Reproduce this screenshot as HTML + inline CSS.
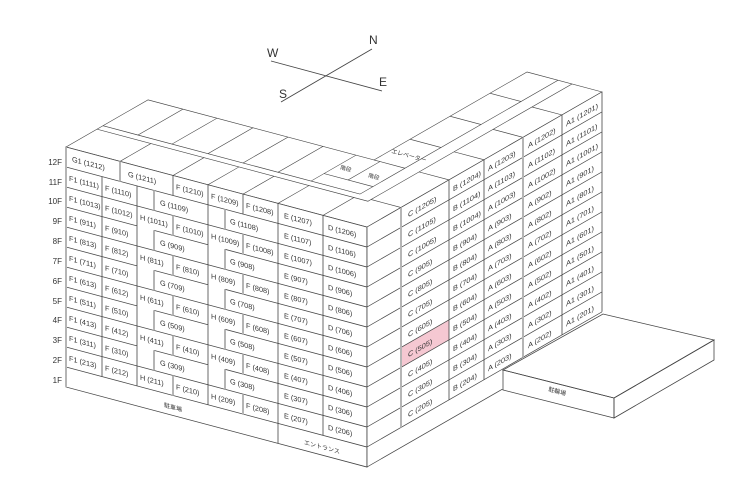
<!DOCTYPE html>
<html><head><meta charset="utf-8"><style>
html,body{margin:0;padding:0;background:#fff;}
svg{display:block;}
text{font-family:"Liberation Sans","Noto Sans CJK JP",sans-serif;fill:#333;}
.t{font-size:7.3px;}
.g{stroke:#b5b5b5;stroke-width:2;fill:none;}
.l{stroke:#444;stroke-width:0.8;fill:none;}
</style></head><body>
<svg width="730" height="500" viewBox="0 0 730 500" xmlns="http://www.w3.org/2000/svg">
<rect width="730" height="500" fill="#fff"/>
<!-- compass -->
<path d="M271 61 L382 91 M281 102 L372 49" stroke="#444" stroke-width="0.9" fill="none"/>
<text x="267" y="57" font-size="12">W</text>
<text x="369" y="44" font-size="12">N</text>
<text x="379" y="86" font-size="12">E</text>
<text x="279" y="98" font-size="12">S</text>

<!-- floor labels -->
<g font-size="8" text-anchor="end">
<text x="62" y="165">12F</text><text x="62" y="185">11F</text><text x="62" y="204">10F</text>
<text x="62" y="224">9F</text><text x="62" y="244">8F</text><text x="62" y="264">7F</text>
<text x="62" y="284">6F</text><text x="62" y="304">5F</text><text x="62" y="323">4F</text>
<text x="62" y="343">3F</text><text x="62" y="363">2F</text><text x="62" y="383">1F</text>
</g>

<!-- roof -->
<g transform="matrix(1 0.266 1 -0.575 66 147)">
<path class="l" fill="#fff" d="M0 0 H301 V235 H226 V82 H0 Z"/>
<path class="l" d="M0 31 H271 V235 M0 37 H257 V235
M54 0V31 M107 0V31 M142 0V31 M177 0V31 M212 0V31 M257 0V31
M271 34H301 M271 82H301 M271 117H301 M271 156H301 M271 195H301
M35 37V82 M69 37V82 M105 37V82 M140 37V82 M175 37V82 M208 37V82
M208 50H257 M232 50V82 M226 82H257
M226 118H257 M226 158H257 M226 198H257"/>
</g>
<text x="340" y="169" font-size="5.5" transform="rotate(15 340 169)">階段</text>
<text x="368" y="177" font-size="5.5" transform="rotate(15 368 177)">階段</text>
<text x="391" y="153" font-size="6" transform="rotate(15 391 153)">エレベーター</text>

<!-- left face -->
<g transform="matrix(1 0.266 0 1 66 147)">
<rect x="0" y="0" width="301" height="240" fill="#fff"/>
<path class="l" d="M0 0 H301 V240 H0 Z"/>
<path class="l" d="M0 20H301 M0 40H301 M0 80H301 M0 120H301 M0 160H301 M0 200H301 M0 220H301
M0 60H71 M88 60H142 M159 60H301
M0 100H71 M88 100H142 M159 100H301
M0 140H71 M88 140H142 M159 140H301
M0 180H71 M88 180H142 M159 180H301
M36 20V220 M71 20V220 M107 0V20 M142 0V220 M177 0V20 M212 0V240 M257 0V220"/>
<path class="g" d="M0 0V240 M54 0V20
M88 20V40 M88 60V80 M88 100V120 M88 140V160 M88 180V200
M107 40V60 M107 80V100 M107 120V140 M107 160V180 M107 200V220
M159 20V40 M159 60V80 M159 100V120 M159 140V160 M159 180V200
M177 40V60 M177 80V100 M177 120V140 M177 160V180 M177 200V220"/>
<g class="t">
<text x="6" y="13">G1 (1212)</text><text x="62" y="13">G (1211)</text><text x="110" y="13">F (1210)</text>
<text x="145" y="13">F (1209)</text><text x="180" y="13">F (1208)</text><text x="218" y="13">E (1207)</text><text x="262" y="13">D (1206)</text>
<text x="3" y="33">F1 (1111)</text><text x="3" y="53">F1 (1013)</text><text x="3" y="73">F1 (911)</text><text x="3" y="93">F1 (813)</text><text x="3" y="113">F1 (711)</text>
<text x="3" y="133">F1 (613)</text><text x="3" y="153">F1 (511)</text><text x="3" y="173">F1 (413)</text><text x="3" y="193">F1 (311)</text><text x="3" y="213">F1 (213)</text>
<text x="39" y="33">F (1110)</text><text x="39" y="53">F (1012)</text><text x="39" y="73">F (910)</text><text x="39" y="93">F (812)</text><text x="39" y="113">F (710)</text>
<text x="39" y="133">F (612)</text><text x="39" y="153">F (510)</text><text x="39" y="173">F (412)</text><text x="39" y="193">F (310)</text><text x="39" y="213">F (212)</text>
<text x="218" y="33">E (1107)</text><text x="218" y="53">E (1007)</text><text x="218" y="73">E (907)</text><text x="218" y="93">E (807)</text><text x="218" y="113">E (707)</text>
<text x="218" y="133">E (607)</text><text x="218" y="153">E (507)</text><text x="218" y="173">E (407)</text><text x="218" y="193">E (307)</text><text x="218" y="213">E (207)</text>
<text x="262" y="33">D (1106)</text><text x="262" y="53">D (1006)</text><text x="262" y="73">D (906)</text><text x="262" y="93">D (806)</text><text x="262" y="113">D (706)</text>
<text x="262" y="133">D (606)</text><text x="262" y="153">D (506)</text><text x="262" y="173">D (406)</text><text x="262" y="193">D (306)</text><text x="262" y="213">D (206)</text>
<text x="94" y="33">G (1109)</text><text x="74" y="53">H (1011)</text><text x="110" y="53">F (1010)</text>
<text x="94" y="73">G (909)</text><text x="74" y="93">H (811)</text><text x="110" y="93">F (810)</text>
<text x="94" y="113">G (709)</text><text x="74" y="133">H (611)</text><text x="110" y="133">F (610)</text>
<text x="94" y="153">G (509)</text><text x="74" y="173">H (411)</text><text x="110" y="173">F (410)</text>
<text x="94" y="193">G (309)</text><text x="74" y="213">H (211)</text><text x="110" y="213">F (210)</text>
<text x="164" y="33">G (1108)</text><text x="145" y="53">H (1009)</text><text x="180" y="53">F (1008)</text>
<text x="164" y="73">G (908)</text><text x="145" y="93">H (809)</text><text x="180" y="93">F (808)</text>
<text x="164" y="113">G (708)</text><text x="145" y="133">H (609)</text><text x="180" y="133">F (608)</text>
<text x="164" y="153">G (508)</text><text x="145" y="173">H (409)</text><text x="180" y="173">F (408)</text>
<text x="164" y="193">G (308)</text><text x="145" y="213">H (209)</text><text x="180" y="213">F (208)</text>
</g>
<text x="98" y="234" font-size="6">駐車場</text>
<text x="238" y="234" font-size="6">エントランス</text>
</g>

<!-- right face -->
<g transform="matrix(1 -0.575 0 1 367 227)">
<path fill="#fff" d="M0 0 H235 V220 H136 V240 H0 Z"/>
<rect x="34" y="140" width="48" height="20" fill="#f5c8d2"/>
<path class="l" d="M0 0H235 M0 20H235 M0 40H235 M0 60H235 M0 80H235 M0 100H235 M0 120H235 M0 140H235 M0 160H235 M0 180H235 M0 200H235 M0 220H235 M0 240H136
M0 0V240 M82 0V220 M117 0V220 M195 0V220 M235 0V220"/>
<path class="g" d="M34 0V220 M156 0V220"/>
<g class="t">
<text x="41" y="14">C (1205)</text><text x="41" y="34">C (1105)</text><text x="41" y="54">C (1005)</text><text x="41" y="74">C (905)</text><text x="41" y="94">C (805)</text><text x="41" y="114">C (705)</text>
<text x="41" y="134">C (605)</text><text x="41" y="154">C (505)</text><text x="41" y="174">C (405)</text><text x="41" y="194">C (305)</text><text x="41" y="214">C (205)</text>
<text x="86" y="14">B (1204)</text><text x="86" y="34">B (1104)</text><text x="86" y="54">B (1004)</text><text x="86" y="74">B (904)</text><text x="86" y="94">B (804)</text><text x="86" y="114">B (704)</text>
<text x="86" y="134">B (604)</text><text x="86" y="154">B (504)</text><text x="86" y="174">B (404)</text><text x="86" y="194">B (304)</text><text x="86" y="214">B (204)</text>
<text x="121" y="14">A (1203)</text><text x="121" y="34">A (1103)</text><text x="121" y="54">A (1003)</text><text x="121" y="74">A (903)</text><text x="121" y="94">A (803)</text><text x="121" y="114">A (703)</text>
<text x="121" y="134">A (603)</text><text x="121" y="154">A (503)</text><text x="121" y="174">A (403)</text><text x="121" y="194">A (303)</text><text x="121" y="214">A (203)</text>
<text x="161" y="14">A (1202)</text><text x="161" y="34">A (1102)</text><text x="161" y="54">A (1002)</text><text x="161" y="74">A (902)</text><text x="161" y="94">A (802)</text><text x="161" y="114">A (702)</text>
<text x="161" y="134">A (602)</text><text x="161" y="154">A (502)</text><text x="161" y="174">A (402)</text><text x="161" y="194">A (302)</text><text x="161" y="214">A (202)</text>
<text x="199" y="14">A1 (1201)</text><text x="199" y="34">A1 (1101)</text><text x="199" y="54">A1 (1001)</text><text x="199" y="74">A1 (901)</text><text x="199" y="94">A1 (801)</text><text x="199" y="114">A1 (701)</text>
<text x="199" y="134">A1 (601)</text><text x="199" y="154">A1 (501)</text><text x="199" y="174">A1 (401)</text><text x="199" y="194">A1 (301)</text><text x="199" y="214">A1 (201)</text>
</g>
</g>

<!-- annex -->
<path class="l" fill="#fff" d="M503 370 L614 398 L714 340 L603 314 Z"/>
<path class="l" fill="#fff" d="M503 370 L614 398 L614 418 L503 390 Z"/>
<path class="l" fill="#fff" d="M614 398 L714 340 L714 360 L614 418 Z"/>
<path class="g" d="M503 371 V389"/>
<text x="548" y="391" font-size="6" transform="rotate(15 548 391)">駐輪場</text>
</svg>
</body></html>
